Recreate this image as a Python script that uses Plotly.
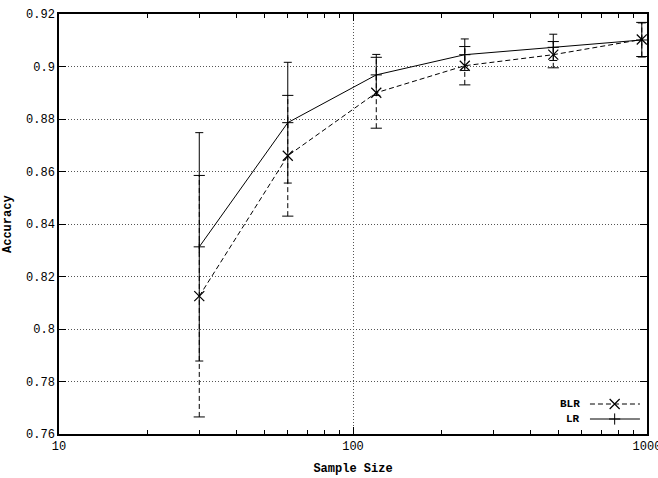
import plotly.graph_objects as go

sample_size = [30, 60, 120, 240, 480, 960]
blr_acc = [0.8125, 0.866, 0.890, 0.9003, 0.9045, 0.9103]
blr_err = [0.046, 0.023, 0.0135, 0.0073, 0.005, 0.0065]
lr_acc = [0.8313, 0.8786, 0.8968, 0.9045, 0.9073, 0.9101]
lr_err = [0.0435, 0.023, 0.0078, 0.006, 0.005, 0.0065]

y_ticks = [0.76, 0.78, 0.8, 0.82, 0.84, 0.86, 0.88, 0.9, 0.92]
y_ticklabels = ["0.76", "0.78", "0.8", "0.82", "0.84", "0.86", "0.88", "0.9", "0.92"]
x_ticks = [10, 100, 1000]
x_ticklabels = ["10", "100", "1000"]
x_minor = [20, 30, 40, 50, 60, 70, 80, 90, 200, 300, 400, 500, 600, 700, 800, 900]

series_names = ["BLR", "LR"]

FONT = "Liberation Mono"
DASH = "5px,3px"

fig = go.Figure()

# BLR dashed error bars (stems)
ex, ey = [], []
for x, y, e in zip(sample_size, blr_acc, blr_err):
    ex += [x, x, None]
    ey += [y - e, y + e, None]
fig.add_trace(go.Scatter(x=ex, y=ey, mode="lines", line=dict(color="black", width=1, dash=DASH),
                         showlegend=False, hoverinfo="skip"))
# BLR caps
cx, cy = [], []
for x, y, e in zip(sample_size, blr_acc, blr_err):
    cx += [x, x]
    cy += [y - e, y + e]
fig.add_trace(go.Scatter(x=cx, y=cy, mode="markers",
                         marker=dict(symbol="line-ew-open", size=8, color="black",
                                     line=dict(color="black", width=1)),
                         showlegend=False, hoverinfo="skip"))

# LR
fig.add_trace(go.Scatter(
    x=sample_size, y=lr_acc, mode="lines+markers", name="LR", showlegend=False,
    line=dict(color="black", width=1),
    marker=dict(symbol="cross-thin-open", size=8, color="black", line=dict(color="black", width=1)),
    error_y=dict(type="data", array=lr_err, visible=True, color="black", thickness=1, width=4),
))
# BLR
fig.add_trace(go.Scatter(
    x=sample_size, y=blr_acc, mode="lines+markers", name="BLR", showlegend=False,
    line=dict(color="black", width=1, dash=DASH),
    marker=dict(symbol="x-thin-open", size=10, color="black", line=dict(color="black", width=1.2)),
))

# gnuplot-style key (text left, sample right) drawn on a hidden overlay axis
key_y = [0.0714, 0.0357]
fig.add_trace(go.Scatter(x=[0.903, 0.988], y=[key_y[0]] * 2, mode="lines", xaxis="x2", yaxis="y2",
                         line=dict(color="black", width=1, dash=DASH), showlegend=False, hoverinfo="skip"))
fig.add_trace(go.Scatter(x=[0.945], y=[key_y[0]], mode="markers", xaxis="x2", yaxis="y2",
                         marker=dict(symbol="x-thin-open", size=10, color="black", line=dict(color="black", width=1.2)),
                         showlegend=False, hoverinfo="skip"))
fig.add_trace(go.Scatter(x=[0.903, 0.988], y=[key_y[1]] * 2, mode="lines", xaxis="x2", yaxis="y2",
                         line=dict(color="black", width=1), showlegend=False, hoverinfo="skip"))
fig.add_trace(go.Scatter(x=[0.945], y=[key_y[1]], mode="markers", xaxis="x2", yaxis="y2",
                         marker=dict(symbol="cross-thin-open", size=8, color="black", line=dict(color="black", width=1)),
                         showlegend=False, hoverinfo="skip"))
for name, ky in zip(series_names, key_y):
    fig.add_annotation(x=0.887, y=ky, xref="paper", yref="paper", xanchor="right", yanchor="middle",
                       text=f"<b>{name}</b>", showarrow=False, borderpad=0,
                       font=dict(family=FONT, size=11, color="black"))

# y-axis title
fig.add_annotation(x=0, y=0.5, xref="paper", yref="paper", xanchor="center", yanchor="middle",
                   xshift=-51, textangle=-90, text="<b>Accuracy</b>", showarrow=False, borderpad=0,
                   font=dict(family=FONT, size=12, color="black"))

axis_common = dict(
    showline=True, linecolor="black", linewidth=1.5, mirror="ticks",
    ticks="inside", ticklen=7, tickcolor="black", tickwidth=1,
    zeroline=False, automargin=False, ticklabeloverflow="allow",
    tickfont=dict(family=FONT, size=12, color="black"),
    showgrid=True, gridcolor="#555", griddash="1px,2px", gridwidth=1,
)

fig.update_xaxes(
    type="log", range=[1, 3], tickvals=x_ticks, ticktext=x_ticklabels,
    title=dict(text="<b>Sample Size</b>", font=dict(family=FONT, size=12, color="black"), standoff=10),
    minor=dict(ticks="inside", ticklen=4, tickcolor="black", tickvals=x_minor, showgrid=False),
    **axis_common,
)
fig.update_yaxes(
    range=[0.76, 0.92], tickvals=y_ticks, ticktext=y_ticklabels,
    **axis_common,
)

fig.update_layout(
    width=658, height=478,
    margin=dict(l=59, r=11, t=14, b=44),
    paper_bgcolor="white", plot_bgcolor="white",
    showlegend=False,
    xaxis2=dict(overlaying="x", range=[0, 1], visible=False, fixedrange=True),
    yaxis2=dict(overlaying="y", range=[0, 1], visible=False, fixedrange=True),
    font=dict(family=FONT, color="black"),
)

fig.write_html("out.html")
